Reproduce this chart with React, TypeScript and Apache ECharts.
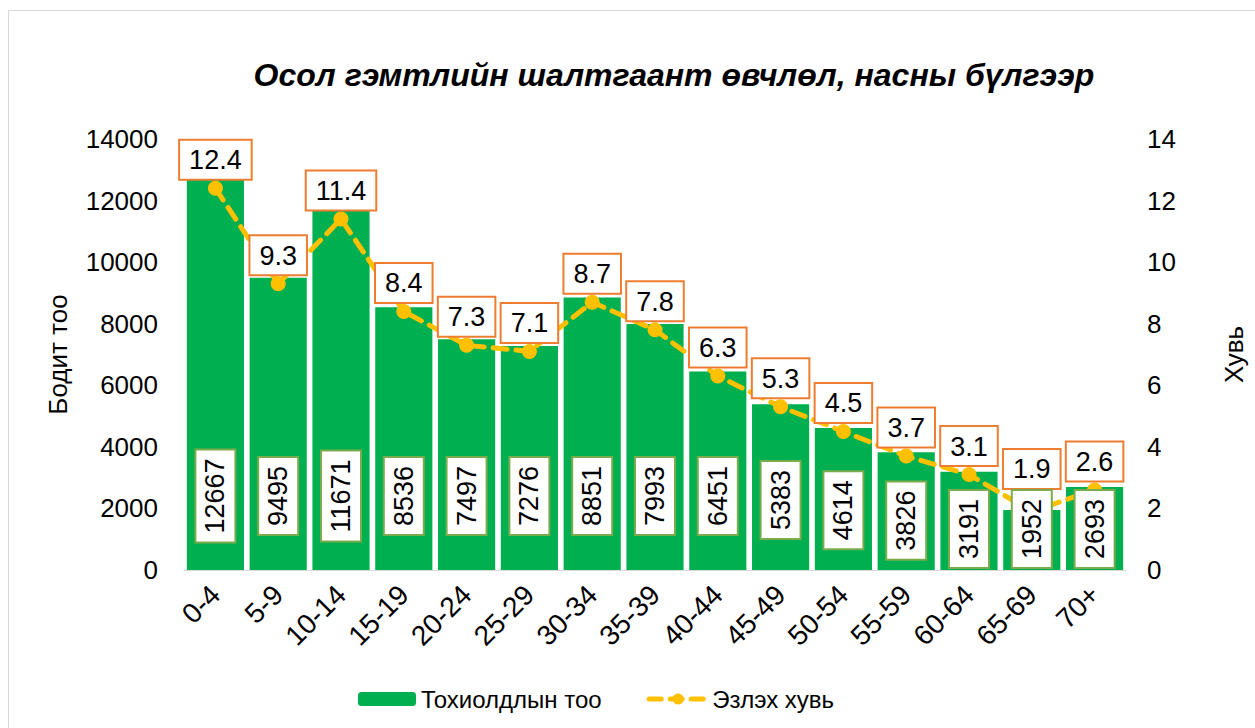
import React, { useEffect, useRef } from "react";
import * as echarts from "echarts";

const categories = ["0-4", "5-9", "10-14", "15-19", "20-24", "25-29", "30-34", "35-39", "40-44", "45-49", "50-54", "55-59", "60-64", "65-69", "70+"];
const caseCounts = [12667, 9495, 11671, 8536, 7497, 7276, 8851, 7993, 6451, 5383, 4614, 3826, 3191, 1952, 2693];
const sharePercent = [12.4, 9.3, 11.4, 8.4, 7.3, 7.1, 8.7, 7.8, 6.3, 5.3, 4.5, 3.7, 3.1, 1.9, 2.6];
const leftTicks = { min: 0, max: 14000, interval: 2000 };
const rightTicks = { min: 0, max: 14, interval: 2 };

const FONT = "'Liberation Sans', Arial, sans-serif";
const LABEL_FS = 27;
const SYMBOL = 15;
const LINE_LABEL_DIST = 2;

function barLabelDistance(v: number): number {
  const d = 41 + (v - 3191) * 0.0132;
  return Math.max(41, Math.min(74, d));
}
function barLabelLength(v: number): number {
  return String(v).length * 0.556 * LABEL_FS + 16 + 2;
}

export default function App() {
  const ref = useRef<HTMLDivElement>(null);
  useEffect(() => {
    if (!ref.current) return;
    const chart = echarts.init(ref.current, undefined, { renderer: "svg" });
    chart.setOption({
      animation: false,
      backgroundColor: "#ffffff",
      textStyle: { fontFamily: FONT },
      title: {
        text: "Осол гэмтлийн шалтгаант өвчлөл, насны бүлгээр",
        left: 669,
        top: 54,
        textAlign: "center",
        textStyle: { fontFamily: FONT, fontSize: 32, fontWeight: "bold", fontStyle: "italic", color: "#000" },
      },
      graphic: [
        {
          type: "rect",
          shape: { x: 8.5, y: 10.5, width: 1270, height: 740 },
          style: { fill: "none", stroke: "#D9D9D9", lineWidth: 1 },
          silent: true,
          z: -10,
        },
      ],
      legend: {
        left: 353,
        top: 682,
        itemWidth: 58,
        itemHeight: 14,
        itemGap: 45,
        textStyle: { fontFamily: FONT, fontSize: 24, color: "#000" },
        data: [
          { name: "Тохиолдлын тоо" },
          { name: "Эзлэх хувь", lineStyle: { width: 5, type: [12, 9] } },
        ],
      },
      grid: { left: 184, right: 116, top: 139, bottom: 158, containLabel: false },
      xAxis: {
        type: "category",
        data: categories,
        axisLine: { show: true, lineStyle: { color: "#D9D9D9", width: 1 } },
        axisTick: { show: false },
        axisLabel: { rotate: 45, fontSize: 28, color: "#000", fontFamily: FONT, margin: 20, interval: 0 },
      },
      yAxis: [
        {
          type: "value",
          ...leftTicks,
          name: "Бодит тоо",
          nameLocation: "middle",
          nameGap: 113,
          nameRotate: 90,
          nameTextStyle: { fontSize: 26, color: "#000", fontFamily: FONT },
          axisLine: { show: false },
          axisTick: { show: false },
          splitLine: { show: false },
          axisLabel: { fontSize: 26, color: "#000", fontFamily: FONT, margin: 26, formatter: (v: number) => String(v) },
        },
        {
          type: "value",
          ...rightTicks,
          name: "Хувь",
          nameLocation: "middle",
          nameGap: 95,
          nameRotate: 90,
          nameTextStyle: { fontSize: 26, color: "#000", fontFamily: FONT },
          axisLine: { show: false },
          axisTick: { show: false },
          splitLine: { show: false },
          axisLabel: { fontSize: 26, color: "#000", fontFamily: FONT, margin: 21 },
        },
      ],
      series: [
        {
          name: "Тохиолдлын тоо",
          type: "bar",
          yAxisIndex: 0,
          z: 2,
          barCategoryGap: "9%",
          barGap: "-100%",
          itemStyle: { color: "#00B050" },
          data: caseCounts,
        },
        {
          name: "Эзлэх хувь",
          type: "line",
          yAxisIndex: 1,
          z: 3,
          data: sharePercent,
          symbol: "circle",
          symbolSize: SYMBOL,
          itemStyle: { color: "#FFC000" },
          lineStyle: { color: "#FFC000", width: 5, type: [14, 9], cap: "round" },
          labelLine: { show: true, lineStyle: { color: "#A6A6A6", width: 1 } },
          label: {
            show: true,
            position: "top",
            distance: LINE_LABEL_DIST,
            fontSize: LABEL_FS,
            color: "#000",
            fontFamily: FONT,
            backgroundColor: "#ffffff",
            borderColor: "#ED7D31",
            borderWidth: 2,
            padding: [6, 9, 5, 9],
          },
        },
        {
          name: "barValueLabels",
          type: "bar",
          yAxisIndex: 0,
          z: 6,
          silent: true,
          barCategoryGap: "9%",
          barGap: "-100%",
          itemStyle: { color: "rgba(0,0,0,0)" },
          data: caseCounts.map((v) => ({ value: v, label: { distance: barLabelDistance(v) } })),
          label: {
            show: true,
            position: "insideBottom",
            rotate: 90,
            align: "center",
            verticalAlign: "middle",
            fontSize: LABEL_FS,
            color: "#000",
            fontFamily: FONT,
            backgroundColor: "#ffffff",
            borderColor: "#7AAB4C",
            borderWidth: 2,
            padding: [6, 8, 5, 8],
          },
        },
      ],
    });

    // Lift line labels that would collide with the bar value boxes.
    const dys = sharePercent.map((p, i) => {
      const pt = chart.convertToPixel({ seriesIndex: 1 }, [i, p]) as number[];
      const base = chart.convertToPixel({ seriesIndex: 0 }, [i, 0]) as number[];
      const v = caseCounts[i];
      const boxTop = base[1] - barLabelDistance(v) - barLabelLength(v) / 2;
      const labelBottom = pt[1] - SYMBOL / 2 - LINE_LABEL_DIST;
      const boxBottom = base[1] - barLabelDistance(v) + barLabelLength(v) / 2;
      if (pt[1] > boxBottom) return 0;
      return Math.min(0, boxTop - 2 - labelBottom);
    });
    chart.setOption({
      series: [{}, { labelLayout: (params: any) => ({ dy: dys[params.dataIndex] }) }, {}],
    });
    return () => chart.dispose();
  }, []);
  return <div ref={ref} style={{ position: "fixed", left: 0, top: 0, width: 1255, height: 728 }} />;
}
